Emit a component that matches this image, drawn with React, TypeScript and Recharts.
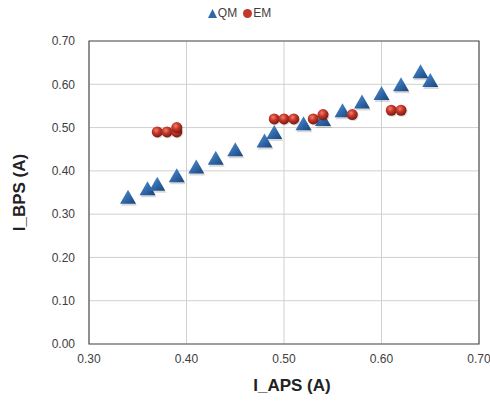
import React from "react";
import {
  ScatterChart,
  Scatter,
  XAxis,
  YAxis,
  CartesianGrid,
  Legend,
  ReferenceArea,
  Label,
} from "recharts";

// I_APS / I_BPS readings (A)
const qmAps = [0.34, 0.36, 0.37, 0.39, 0.41, 0.43, 0.45, 0.48, 0.49, 0.52, 0.54, 0.56, 0.58, 0.6, 0.62, 0.64, 0.65];
const qmBps = [0.34, 0.36, 0.37, 0.39, 0.41, 0.43, 0.45, 0.47, 0.49, 0.51, 0.52, 0.54, 0.56, 0.58, 0.6, 0.63, 0.61];

const emAps = [0.37, 0.38, 0.39, 0.39, 0.49, 0.5, 0.51, 0.53, 0.54, 0.57, 0.61, 0.62];
const emBps = [0.49, 0.49, 0.49, 0.5, 0.52, 0.52, 0.52, 0.52, 0.53, 0.53, 0.54, 0.54];

const xTicks = [0.3, 0.4, 0.5, 0.6, 0.7];
const yTicks = [0, 0.1, 0.2, 0.3, 0.4, 0.5, 0.6, 0.7];

const qmData = qmAps.map((x, i) => ({ x, y: qmBps[i] }));
const emData = emAps.map((x, i) => ({ x, y: emBps[i] }));

const FONT = "'Liberation Sans', Arial, sans-serif";

const Triangle = (props: any) => {
  const { cx, cy } = props;
  if (cx == null || cy == null) return null;
  const w = 8;
  const h = 14;
  return (
    <g>
      <path
        d={`M${cx},${cy - h / 2 + 1} L${cx + w},${cy + h / 2 + 1} L${cx - w},${cy + h / 2 + 1} Z`}
        fill="#000"
        opacity={0.15}
        transform="translate(1,1)"
      />
      <path d={`M${cx},${cy - h / 2} L${cx + w},${cy + h / 2} L${cx - w},${cy + h / 2} Z`} fill="url(#triGrad)" />
    </g>
  );
};

const Ball = (props: any) => {
  const { cx, cy } = props;
  if (cx == null || cy == null) return null;
  return (
    <g>
      <circle cx={cx + 1} cy={cy + 1} r={5.5} fill="#000" opacity={0.15} />
      <circle cx={cx} cy={cy} r={5.5} fill="url(#ballGrad)" />
    </g>
  );
};

const LegendContent = () => (
  <div style={{ textAlign: "center", fontFamily: FONT, fontSize: 12, color: "#404040", lineHeight: "14px" }}>
    <svg width={9} height={9} style={{ verticalAlign: "-1px" }}>
      <path d="M4.5,0 L9,9 L0,9 Z" fill="#2f67a8" />
    </svg>
    <span style={{ marginLeft: 1, marginRight: 6 }}>QM</span>
    <svg width={9} height={9} style={{ verticalAlign: "-1px" }}>
      <circle cx={4.5} cy={4.5} r={4.5} fill="#c0392b" />
    </svg>
    <span style={{ marginLeft: 1 }}>EM</span>
  </div>
);

export default function App() {
  return (
    <div style={{ position: "absolute", left: 0, top: 0, width: 490, height: 402, background: "#fff" }}>
      <ScatterChart width={490} height={402} margin={{ top: 6, right: 11, bottom: 0, left: 0 }}>
        <defs>
          <linearGradient id="triGrad" x1="0" y1="0" x2="1" y2="1">
            <stop offset="0%" stopColor="#5b95d6" />
            <stop offset="55%" stopColor="#2f67a8" />
            <stop offset="100%" stopColor="#1b4479" />
          </linearGradient>
          <radialGradient id="ballGrad" cx="40%" cy="35%" r="65%">
            <stop offset="0%" stopColor="#f08070" />
            <stop offset="45%" stopColor="#c8382a" />
            <stop offset="100%" stopColor="#7a1a10" />
          </radialGradient>
        </defs>
        <Legend verticalAlign="top" height={35} content={<LegendContent />} />
        <CartesianGrid stroke="#d0d0d0" strokeWidth={1} />
        <XAxis
          type="number"
          dataKey="x"
          domain={[0.3, 0.7]}
          ticks={xTicks}
          tickFormatter={(v: number) => v.toFixed(2)}
          axisLine={false}
          tickLine={false}
          tickSize={0}
          tickMargin={10}
          height={58}
          tick={{ fontSize: 12, fill: "#404040", fontFamily: FONT }}
        >
          <Label
            value="I_APS (A)"
            position="insideBottom"
            offset={11}
            dx={8}
            style={{ fontSize: 17, fontWeight: "bold", fill: "#222", fontFamily: FONT }}
          />
        </XAxis>
        <YAxis
          type="number"
          dataKey="y"
          domain={[0, 0.7]}
          ticks={yTicks}
          tickFormatter={(v: number) => v.toFixed(2)}
          axisLine={false}
          tickLine={false}
          tickSize={0}
          tickMargin={14}
          width={89}
          tick={{ fontSize: 12, fill: "#404040", fontFamily: FONT }}
        >
          <Label
            value="I_BPS (A)"
            angle={-90}
            position="insideLeft"
            offset={19}
            style={{ fontSize: 17, fontWeight: "bold", fill: "#222", fontFamily: FONT, textAnchor: "middle" }}
          />
        </YAxis>
        <ReferenceArea x1={0.3} x2={0.7} y1={0} y2={0.7} fill="none" stroke="#555" strokeWidth={1.2} ifOverflow="visible" />
        <Scatter name="QM" data={qmData} shape={<Triangle />} isAnimationActive={false} />
        <Scatter name="EM" data={emData} shape={<Ball />} isAnimationActive={false} />
      </ScatterChart>
    </div>
  );
}
